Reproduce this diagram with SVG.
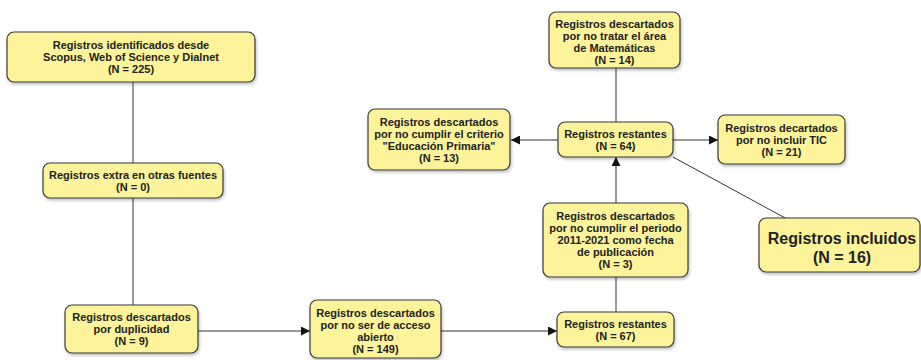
<svg xmlns="http://www.w3.org/2000/svg" width="921" height="360" viewBox="0 0 921 360">
<style>
.box{fill:#fcf39a;stroke:#3a3a3a;stroke-width:1.2;filter:url(#sh)}
.t{font-family:"Liberation Sans",Arial,sans-serif;font-weight:bold;font-size:11px;fill:#222;text-anchor:middle}
.big{font-size:16px}
.c{stroke:#333;stroke-width:1;fill:none}
.a{marker-end:url(#ah)}
</style>
<defs>
<filter id="sh" x="-10%" y="-10%" width="130%" height="140%">
<feDropShadow dx="1" dy="2" stdDeviation="1.5" flood-color="#000" flood-opacity="0.25"/>
</filter>
<marker id="ah" viewBox="0 0 10 10" refX="10" refY="5" markerWidth="9" markerHeight="9" markerUnits="userSpaceOnUse" orient="auto">
<path d="M0,0 L10,5 L0,10 z" fill="#111"/>
</marker>
</defs>
<g id="connectors">
<line class="c" x1="133" y1="82" x2="133" y2="163"/>
<line class="c" x1="133" y1="198" x2="133" y2="305"/>
<line class="c a" x1="198" y1="331" x2="310" y2="331"/>
<line class="c a" x1="441" y1="331" x2="557" y2="331"/>
<line class="c" x1="616" y1="312" x2="616" y2="277"/>
<line class="c a" x1="616" y1="203" x2="616" y2="157"/>
<line class="c" x1="616" y1="68" x2="616" y2="122"/>
<line class="c a" x1="558" y1="140" x2="511" y2="140"/>
<line class="c a" x1="673" y1="140" x2="718" y2="140"/>
<line class="c" x1="673" y1="157" x2="787" y2="219"/>
</g>
<g id="n1">
<rect class="box" x="7" y="32" width="248" height="50" rx="7"/>
<text class="t" x="131" y="49">Registros identificados desde</text>
<text class="t" x="131" y="61">Scopus, Web of Science y Dialnet</text>
<text class="t" x="131" y="73">(N = 225)</text>
</g>
<g id="n2">
<rect class="box" x="43" y="163" width="180" height="35" rx="7"/>
<text class="t" x="133" y="178.5">Registros extra en otras fuentes</text>
<text class="t" x="133" y="190.5">(N = 0)</text>
</g>
<g id="n3">
<rect class="box" x="65" y="305" width="133" height="48" rx="7"/>
<text class="t" x="131.5" y="321">Registros descartados</text>
<text class="t" x="131.5" y="333">por duplicidad</text>
<text class="t" x="131.5" y="345">(N = 9)</text>
</g>
<g id="n4">
<rect class="box" x="310" y="300" width="131" height="58" rx="7"/>
<text class="t" x="375.5" y="317">Registros descartados</text>
<text class="t" x="375.5" y="329">por no ser de acceso</text>
<text class="t" x="375.5" y="341">abierto</text>
<text class="t" x="375.5" y="353">(N = 149)</text>
</g>
<g id="n5">
<rect class="box" x="557" y="312" width="117" height="35" rx="7"/>
<text class="t" x="615.5" y="328">Registros restantes</text>
<text class="t" x="615.5" y="340">(N = 67)</text>
</g>
<g id="n6">
<rect class="box" x="543" y="203" width="145" height="74" rx="7"/>
<text class="t" x="615.5" y="220">Registros descartados</text>
<text class="t" x="615.5" y="232">por no cumplir el periodo</text>
<text class="t" x="615.5" y="244">2011-2021 como fecha</text>
<text class="t" x="615.5" y="256">de publicación</text>
<text class="t" x="615.5" y="268">(N = 3)</text>
</g>
<g id="n7">
<rect class="box" x="558" y="122" width="115" height="35" rx="7"/>
<text class="t" x="615.5" y="137.5">Registros restantes</text>
<text class="t" x="615.5" y="149.5">(N = 64)</text>
</g>
<g id="n8">
<rect class="box" x="368" y="109" width="142" height="61" rx="7"/>
<text class="t" x="439" y="125.5">Registros descartados</text>
<text class="t" x="439" y="137.5">por no cumplir el criterio</text>
<text class="t" x="439" y="149.5">"Educación Primaria"</text>
<text class="t" x="439" y="161.5">(N = 13)</text>
</g>
<g id="n9">
<rect class="box" x="549" y="12" width="131" height="56" rx="7"/>
<text class="t" x="614.5" y="28">Registros descartados</text>
<text class="t" x="614.5" y="40">por no tratar el área</text>
<text class="t" x="614.5" y="52">de Matemáticas</text>
<text class="t" x="614.5" y="64">(N = 14)</text>
</g>
<g id="n10">
<rect class="box" x="718" y="115" width="127" height="49" rx="7"/>
<text class="t" x="781.5" y="131.5">Registros decartados</text>
<text class="t" x="781.5" y="143.5">por no incluir TIC</text>
<text class="t" x="781.5" y="155.5">(N = 21)</text>
</g>
<g id="n11">
<rect class="box" x="759" y="218" width="161" height="54" rx="7"/>
<text class="t big" x="842" y="244">Registros incluidos</text>
<text class="t big" x="842" y="263">(N = 16)</text>
</g>
</svg>
